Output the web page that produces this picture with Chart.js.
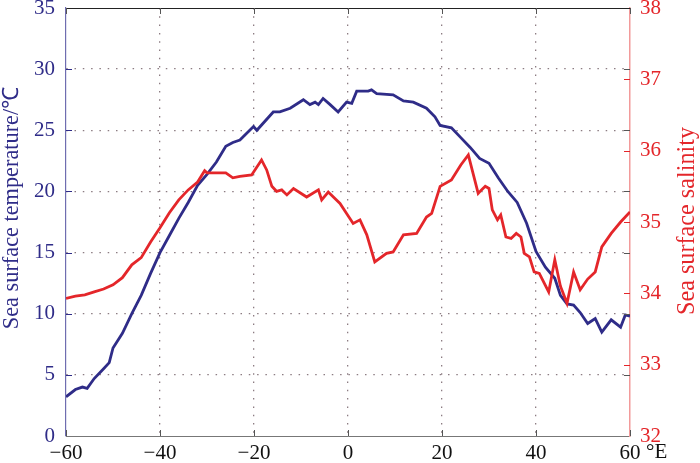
<!DOCTYPE html>
<html>
<head>
<meta charset="utf-8">
<script src="https://cdn.jsdelivr.net/npm/chart.js@4.4.1/dist/chart.umd.min.js"></script>
<style>
  html, body { margin: 0; padding: 0; background: #fff; }
  #wrap { width: 700px; height: 463px; }
</style>
</head>
<body>
<div id="wrap"><canvas id="chart"></canvas></div>
<script>
// ── Data ─────────────────────────────────────────────────────────────────────
// sea surface temperature (°C) vs longitude, left axis
const LON_T = [-60, -58, -56.5, -55.5, -54, -52, -50.8, -50, -48, -46, -44, -42, -40, -38, -36,
  -34, -32, -30, -28, -26, -24.5, -23, -20.1, -19.4, -15.9, -14.5, -12.3, -9.5, -8.1, -7,
  -6.3, -5.3, -3.8, -2.1, -0.3, 0.8, 1.85, 4.3, 5, 6.1, 9.6, 11.8, 13.9, 16.7, 18.5,
  19.6, 22, 24, 26, 28, 30, 32, 34, 36, 38, 40, 42, 44, 45.2, 46.6,
  48, 49.4, 51, 52.6, 54, 56, 58, 59, 60];
const SST = [3.2, 3.8, 4.0, 3.9, 4.7, 5.5, 6.0, 7.2, 8.4, 10.0, 11.5, 13.3, 15.0, 16.4, 17.8,
  19.1, 20.5, 21.4, 22.4, 23.7, 24.0, 24.2, 25.3, 25.0, 26.5, 26.5, 26.8, 27.5, 27.1, 27.3,
  27.1, 27.6, 27.1, 26.5, 27.3, 27.2, 28.2, 28.2, 28.3, 28.0, 27.9, 27.4, 27.3, 26.8, 26.1,
  25.4, 25.2, 24.4, 23.6, 22.7, 22.3, 21.1, 20.0, 19.1, 17.4, 15.1, 13.8, 12.9, 11.5, 10.8,
  10.7, 10.1, 9.2, 9.6, 8.5, 9.5, 8.9, 9.9, 9.8];

// sea surface salinity vs longitude, right axis
const LON_S = [-60, -58, -56, -54, -52, -50, -48, -46, -44, -42, -40, -38, -36, -34, -32,
  -30.5, -30, -28, -26, -24.5, -23, -20.5, -18.4, -17.3, -16.2, -15.2, -14.1, -13, -11.6, -8.8,
  -6.3, -5.6, -4.2, -1.7, -0.3, 1.1, 2.55, 4, 5.7, 8.2, 9.6, 11.8, 14.6, 16.7, 17.8,
  19.6, 22, 24, 25.6, 27.7, 28.4, 29.2, 30, 30.7, 31.8, 32.5, 33.6, 34.7, 35.8, 36.8,
  37.5, 38.6, 39.6, 40.7, 42.7, 44, 45.2, 46.6, 48, 49.4, 51, 52.6, 54, 56, 58, 60];
const SSS = [33.93, 33.96, 33.98, 34.02, 34.06, 34.12, 34.22, 34.40, 34.50, 34.72, 34.92, 35.13, 35.31, 35.45, 35.56,
  35.72, 35.69, 35.69, 35.69, 35.62, 35.64, 35.66, 35.87, 35.73, 35.50, 35.43, 35.45, 35.38, 35.47, 35.35,
  35.45, 35.31, 35.42, 35.26, 35.12, 34.98, 35.03, 34.82, 34.44, 34.56, 34.58, 34.82, 34.84, 35.07, 35.12,
  35.50, 35.59, 35.80, 35.94, 35.40, 35.45, 35.50, 35.47, 35.17, 35.03, 35.10, 34.79, 34.77, 34.84, 34.79,
  34.56, 34.51, 34.30, 34.28, 34.02, 34.47, 34.10, 33.86, 34.30, 34.05, 34.20, 34.30, 34.65, 34.84, 35.00, 35.14];

const X_TICKS = [-60, -40, -20, 0, 20, 40, 60];
const TITLE_T = 'Sea surface temperature/\u2103';
const TITLE_S = 'Sea surface salinity';

// ── Style ────────────────────────────────────────────────────────────────────
const NAVY = '#2f2c88';
const RED  = '#e4262a';
const GRID = '#8c7c82';
const SERIF = '"Liberation Serif", "Times New Roman", serif';
const TICK_FONT = { family: SERIF, size: 21 };

const pts = (xs, ys) => xs.map((x, i) => ({ x, y: ys[i] }));

// rotated axis title, sized to a given span
function sideTitle(ctx, text, cx, cy, span, color) {
  ctx.save();
  ctx.font = `20px ${SERIF}`;
  const size = 20 * span / ctx.measureText(text).width;
  ctx.font = `${size.toFixed(1)}px ${SERIF}`;
  ctx.translate(cx, cy);
  ctx.rotate(-Math.PI / 2);
  ctx.fillStyle = color;
  ctx.textAlign = 'center';
  ctx.textBaseline = 'middle';
  ctx.fillText(text, 0, 0);
  ctx.restore();
}

// frame top edge, inward tick marks, axis titles, "°E" unit
const framePlugin = {
  id: 'frame',
  afterDraw(chart) {
    const { ctx, chartArea: a, scales } = chart;
    ctx.save();
    ctx.lineWidth = 1;
    ctx.strokeStyle = '#222';
    ctx.beginPath();
    ctx.moveTo(a.left, a.top + 0.5);
    ctx.lineTo(a.right, a.top + 0.5);
    ctx.stroke();

    ctx.strokeStyle = '#555';
    for (const v of X_TICKS) {
      const px = Math.round(scales.x.getPixelForValue(v)) + 0.5;
      ctx.beginPath();
      ctx.moveTo(px, a.top); ctx.lineTo(px, a.top + 6);
      ctx.moveTo(px, a.bottom); ctx.lineTo(px, a.bottom - 6);
      ctx.stroke();
    }
    for (let v = 5; v < 35; v += 5) {
      const py = Math.round(scales.y.getPixelForValue(v)) + 0.5;
      ctx.strokeStyle = '#555';
      ctx.beginPath();
      ctx.moveTo(a.right, py); ctx.lineTo(a.right - 6, py);
      ctx.stroke();
      ctx.strokeStyle = NAVY;
      ctx.beginPath();
      ctx.moveTo(a.left, py); ctx.lineTo(a.left + 6, py);
      ctx.stroke();
    }
    ctx.strokeStyle = RED;
    for (let v = 33; v < 38; v++) {
      const py = Math.round(scales.y1.getPixelForValue(v)) + 0.5;
      ctx.beginPath();
      ctx.moveTo(a.right, py); ctx.lineTo(a.right - 6, py);
      ctx.stroke();
    }

    ctx.fillStyle = '#111';
    ctx.font = `21px ${SERIF}`;
    ctx.textBaseline = 'top';
    ctx.textAlign = 'left';
    ctx.fillText('°E', a.right + 16, a.bottom + 6);
    ctx.restore();

    sideTitle(ctx, TITLE_T, 12, 208, 243, NAVY);
    sideTitle(ctx, TITLE_S, 688, 221, 188, RED);
  },
};

new Chart(document.getElementById('chart').getContext('2d'), {
  type: 'line',
  data: {
    datasets: [
      {
        label: TITLE_S, data: pts(LON_S, SSS), yAxisID: 'y1', order: 0,
        borderColor: RED, borderWidth: 2.8, pointRadius: 0, tension: 0, fill: false,
      },
      {
        label: TITLE_T, data: pts(LON_T, SST), yAxisID: 'y', order: 1,
        borderColor: NAVY, borderWidth: 2.8, pointRadius: 0, tension: 0, fill: false,
      },
    ],
  },
  options: {
    responsive: true, maintainAspectRatio: false, animation: false,
    layout: { padding: { top: 8 } },
    plugins: { legend: { display: false }, tooltip: { enabled: false } },
    scales: {
      x: {
        type: 'linear', min: -60, max: 60,
        afterBuildTicks: s => { s.ticks = X_TICKS.map(value => ({ value })); },
        afterFit: s => { s.height = 27; s.paddingLeft = 0; s.paddingRight = 0; },
        ticks: {
          color: '#111', font: TICK_FONT, padding: 5, maxRotation: 0, autoSkip: false,
          callback: v => String(v).replace('-', '\u2212'),
        },
        grid: {
          drawTicks: false, lineWidth: 1.3,
          color: c => (c.tick && (c.tick.value === -60 || c.tick.value === 60)) ? 'rgba(0,0,0,0)' : GRID,
        },
        border: { color: '#777', width: 1, dash: [1.5, 6.8] },
      },
      y: {
        position: 'left', min: 0, max: 35,
        afterFit: s => { s.width = 66; s.paddingTop = 0; s.paddingBottom = 0; },
        ticks: { stepSize: 5, color: NAVY, font: TICK_FONT, padding: 11 },
        grid: {
          drawTicks: false, lineWidth: 1.3,
          color: c => (c.tick && (c.tick.value === 0 || c.tick.value === 35)) ? 'rgba(0,0,0,0)' : GRID,
        },
        border: { color: '#6f6db0', width: 1.2, dash: [1.5, 6.8] },
      },
      y1: {
        position: 'right', min: 32, max: 38,
        afterFit: s => { s.width = 70; s.paddingTop = 0; s.paddingBottom = 0; },
        ticks: { stepSize: 1, color: RED, font: TICK_FONT, padding: 10 },
        grid: { drawOnChartArea: false, drawTicks: false },
        border: { color: '#f29a9a', width: 1.5 },
      },
    },
  },
  plugins: [framePlugin],
});
</script>
</body>
</html>
